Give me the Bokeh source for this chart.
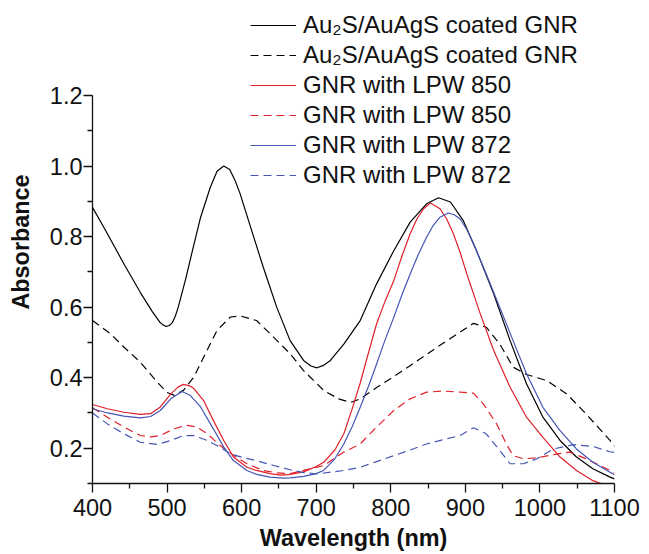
from bokeh.plotting import figure
from bokeh.models import (FixedTicker, PrintfTickFormatter, Legend, LegendItem)
from bokeh.embed import file_html
from bokeh.resources import INLINE

# ---- data ----
black_solid_x = [400, 420, 442, 464, 480, 490, 495, 499, 503, 507, 511, 515, 525, 534, 545, 558, 567, 576, 584, 591, 598, 612, 629, 647, 665, 683, 693, 701, 709, 719, 737, 759, 781, 804, 826, 848, 864, 880, 897, 915, 938, 960, 982, 1004, 1027, 1049, 1071, 1094, 1100]
black_solid_y = [0.883, 0.808, 0.723, 0.642, 0.588, 0.558, 0.549, 0.545, 0.548, 0.556, 0.574, 0.600, 0.680, 0.760, 0.855, 0.940, 0.985, 1.000, 0.990, 0.960, 0.921, 0.827, 0.713, 0.600, 0.505, 0.449, 0.433, 0.428, 0.434, 0.449, 0.495, 0.562, 0.666, 0.760, 0.841, 0.893, 0.910, 0.898, 0.846, 0.760, 0.638, 0.505, 0.383, 0.288, 0.222, 0.175, 0.142, 0.118, 0.113]

black_dash_x = [400, 424, 442, 464, 487, 500, 510, 522, 536, 549, 567, 585, 598, 620, 638, 656, 665, 683, 710, 730, 746, 759, 781, 804, 826, 848, 866, 884, 911, 928, 946, 964, 982, 1009, 1036, 1062, 1080, 1094, 1100]
black_dash_y = [0.562, 0.525, 0.487, 0.444, 0.387, 0.358, 0.350, 0.364, 0.402, 0.458, 0.534, 0.572, 0.575, 0.562, 0.525, 0.487, 0.468, 0.420, 0.364, 0.340, 0.330, 0.340, 0.372, 0.403, 0.434, 0.466, 0.492, 0.517, 0.554, 0.543, 0.496, 0.430, 0.409, 0.392, 0.354, 0.297, 0.255, 0.222, 0.205]

red_solid_x = [400, 420, 442, 464, 478, 491, 505, 515, 522, 530, 536, 549, 562, 576, 589, 607, 620, 638, 652, 665, 683, 700, 710, 725, 737, 748, 759, 770, 781, 792, 804, 815, 826, 835, 844, 853, 866, 875, 884, 893, 902, 920, 938, 960, 982, 1004, 1027, 1049, 1071, 1083, 1100]
red_solid_y = [0.324, 0.312, 0.302, 0.296, 0.298, 0.317, 0.354, 0.374, 0.381, 0.377, 0.369, 0.335, 0.279, 0.222, 0.175, 0.146, 0.137, 0.128, 0.124, 0.126, 0.133, 0.148, 0.160, 0.195, 0.241, 0.310, 0.385, 0.470, 0.553, 0.615, 0.675, 0.745, 0.808, 0.850, 0.879, 0.895, 0.879, 0.850, 0.808, 0.755, 0.694, 0.581, 0.477, 0.373, 0.288, 0.231, 0.175, 0.137, 0.108, 0.099, 0.088]

red_dash_x = [400, 420, 442, 464, 478, 491, 509, 527, 540, 554, 571, 589, 607, 629, 647, 665, 683, 710, 737, 759, 781, 804, 826, 848, 870, 893, 911, 924, 942, 955, 964, 978, 996, 1018, 1040, 1062, 1094, 1100]
red_dash_y = [0.315, 0.288, 0.260, 0.236, 0.232, 0.236, 0.255, 0.265, 0.260, 0.241, 0.208, 0.180, 0.156, 0.137, 0.130, 0.128, 0.137, 0.151, 0.189, 0.212, 0.260, 0.307, 0.340, 0.359, 0.362, 0.359, 0.356, 0.326, 0.269, 0.212, 0.179, 0.170, 0.173, 0.182, 0.189, 0.170, 0.137, 0.130]

blue_solid_x = [400, 420, 442, 464, 478, 491, 505, 520, 531, 545, 562, 576, 589, 607, 620, 638, 656, 665, 683, 700, 710, 725, 737, 748, 759, 770, 781, 792, 804, 815, 826, 837, 848, 857, 866, 877, 885, 893, 902, 911, 928, 946, 964, 982, 1004, 1027, 1049, 1071, 1094, 1100]
blue_solid_y = [0.312, 0.300, 0.291, 0.286, 0.290, 0.307, 0.340, 0.361, 0.350, 0.317, 0.255, 0.203, 0.165, 0.137, 0.126, 0.118, 0.115, 0.116, 0.120, 0.128, 0.137, 0.170, 0.212, 0.260, 0.316, 0.375, 0.439, 0.505, 0.571, 0.635, 0.694, 0.750, 0.798, 0.832, 0.855, 0.867, 0.862, 0.850, 0.820, 0.779, 0.694, 0.600, 0.505, 0.411, 0.316, 0.250, 0.198, 0.160, 0.132, 0.125]

blue_dash_x = [400, 420, 442, 464, 487, 505, 522, 536, 554, 571, 585, 603, 621, 643, 665, 683, 701, 737, 759, 781, 804, 826, 848, 870, 893, 911, 928, 946, 960, 978, 996, 1018, 1045, 1071, 1094, 1100]
blue_dash_y = [0.300, 0.269, 0.241, 0.217, 0.211, 0.222, 0.236, 0.236, 0.222, 0.203, 0.184, 0.173, 0.164, 0.151, 0.139, 0.131, 0.127, 0.137, 0.146, 0.162, 0.179, 0.195, 0.212, 0.224, 0.236, 0.258, 0.241, 0.194, 0.156, 0.156, 0.170, 0.198, 0.210, 0.205, 0.190, 0.188]

labels = ["Au\u2082S/AuAgS coated GNR", "Au\u2082S/AuAgS coated GNR",
          "GNR with LPW 850", "GNR with LPW 850",
          "GNR with LPW 872", "GNR with LPW 872"]

x_ticks = [400, 500, 600, 700, 800, 900, 1000, 1100]
x_minor = [450, 550, 650, 750, 850, 950, 1050]
y_ticks = [0.2, 0.4, 0.6, 0.8, 1.0, 1.2]
y_minor = [0.1, 0.3, 0.5, 0.7, 0.9, 1.1]
y_axis_span = (0.1, 1.2)

FONT = "Liberation Sans"
BLACK = "#000000"
RED = "#e0202a"
BLUE = "#4455b5"
DASH = "8 5"

# frame reaches the top edge so the legend (partly above the axis end) is not clipped;
# the axis itself is bounded to 0.1 .. 1.2 (1.2 sits 95 px below the top)
px_per_unit = 388.0 / 1.1
y_top = 0.1 + 483.0 / px_per_unit

p = figure(width=649, height=554, x_range=(400, 1100), y_range=(0.1, y_top),
           output_backend="svg", toolbar_location=None,
           min_border_left=92, min_border_right=35, min_border_top=0, min_border_bottom=71)
p.outline_line_color = None
p.xgrid.visible = False
p.ygrid.visible = False
p.background_fill_color = "white"
p.border_fill_color = "white"

series = [
    (black_solid_x, black_solid_y, BLACK, "solid"),
    (black_dash_x, black_dash_y, BLACK, DASH),
    (red_solid_x, red_solid_y, RED, "solid"),
    (red_dash_x, red_dash_y, RED, DASH),
    (blue_solid_x, blue_solid_y, BLUE, "solid"),
    (blue_dash_x, blue_dash_y, BLUE, DASH),
]
renderers = []
for xs, ys, c, d in series:
    r = p.line(xs, ys, line_color=c, line_width=1.2, line_dash=d)
    renderers.append(r)

items = [LegendItem(label=lab, renderers=[r]) for lab, r in zip(labels, renderers)]
legend = Legend(items=items, location=(158, 293))
legend.label_text_font = FONT
legend.label_text_font_size = "24px"
legend.label_text_color = "#111111"
legend.glyph_width = 46
legend.glyph_height = 30
legend.label_height = 30
legend.label_standoff = 7
legend.spacing = 0
legend.padding = 0
legend.margin = 0
legend.border_line_color = None
legend.background_fill_alpha = 0
p.add_layout(legend, "center")

for ax in (p.xaxis[0], p.yaxis[0]):
    ax.axis_line_width = 1.3
    ax.axis_line_color = "#111111"
    ax.major_tick_line_color = "#111111"
    ax.minor_tick_line_color = "#111111"
    ax.major_tick_line_width = 1.3
    ax.minor_tick_line_width = 1.3
    ax.major_tick_in = 0
    ax.major_tick_out = 9
    ax.minor_tick_in = 0
    ax.minor_tick_out = 5
    ax.major_label_text_font = FONT
    ax.major_label_text_font_size = "23.5px"
    ax.major_label_text_color = "#111111"
    ax.axis_label_text_font = FONT
    ax.axis_label_text_font_size = "23.4px"
    ax.axis_label_text_font_style = "bold"
    ax.axis_label_text_color = "#111111"

p.yaxis[0].bounds = y_axis_span
p.xaxis[0].ticker = FixedTicker(ticks=x_ticks, minor_ticks=x_minor)
p.yaxis[0].ticker = FixedTicker(ticks=y_ticks, minor_ticks=y_minor)
p.yaxis[0].formatter = PrintfTickFormatter(format="%.1f")
p.xaxis[0].axis_label = "Wavelength (nm)"
p.yaxis[0].axis_label = "Absorbance"
p.xaxis[0].major_label_standoff = 6
p.xaxis[0].axis_label_standoff = 6
p.yaxis[0].major_label_standoff = 1
p.yaxis[0].axis_label_standoff = 13

open("out.html", "w").write(file_html(p, INLINE))
